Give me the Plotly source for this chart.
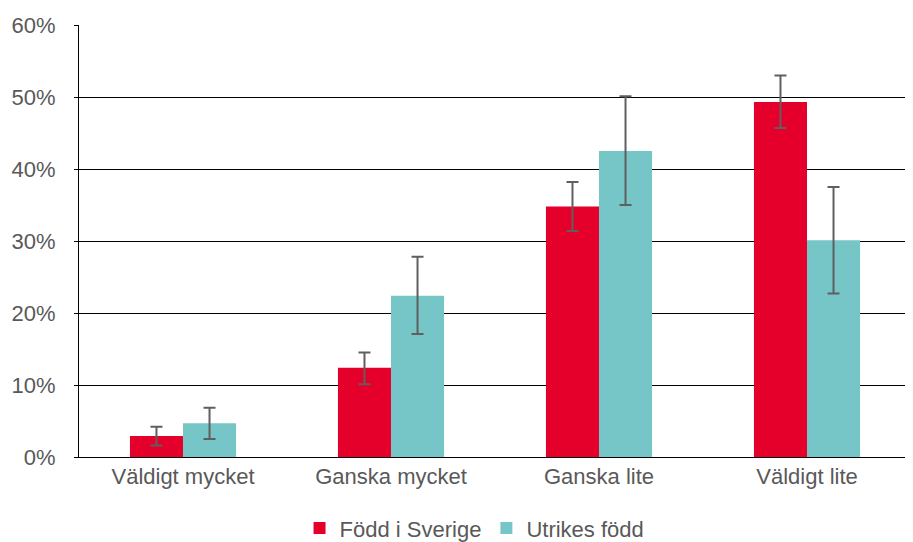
import plotly.graph_objects as go

categories = ["Väldigt mycket", "Ganska mycket", "Ganska lite", "Väldigt lite"]
series_names = ["Född i Sverige", "Utrikes född"]
fodd_sverige = [0.029, 0.124, 0.348, 0.493]
fodd_sverige_hi = [0.042, 0.145, 0.382, 0.530]
fodd_sverige_lo = [0.016, 0.101, 0.314, 0.457]
utrikes = [0.047, 0.224, 0.425, 0.301]
utrikes_hi = [0.0685, 0.278, 0.501, 0.375]
utrikes_lo = [0.025, 0.171, 0.350, 0.227]
y_ticks = [0, 0.1, 0.2, 0.3, 0.4, 0.5, 0.6]
y_tick_labels = ["0%", "10%", "20%", "30%", "40%", "50%", "60%"]

colors = ["#E4002B", "#76C6C8"]
err_color = "#5F5F5F"
font_family = "Liberation Sans, Arial, sans-serif"
text_color = "#595959"
fs = 22

fig = go.Figure()
for name, vals, hi, lo, col in [
    (series_names[0], fodd_sverige, fodd_sverige_hi, fodd_sverige_lo, colors[0]),
    (series_names[1], utrikes, utrikes_hi, utrikes_lo, colors[1]),
]:
    fig.add_trace(go.Bar(
        x=categories, y=vals, name=name,
        marker=dict(color=col, line=dict(width=0)),
        error_y=dict(
            type="data", symmetric=False,
            array=[h - v for h, v in zip(hi, vals)],
            arrayminus=[v - l for v, l in zip(vals, lo)],
            color=err_color, thickness=2, width=6,
        ),
    ))

fig.update_layout(
    width=905, height=534,
    margin=dict(l=71, r=2, t=17, b=85),
    paper_bgcolor="white", plot_bgcolor="white",
    barmode="group", bargap=0.49, bargroupgap=0,
    font=dict(family=font_family, size=fs, color=text_color),
    showlegend=True,
    legend=dict(
        orientation="h", xref="container", x=0.5155, xanchor="center",
        yref="container", y=0.026, yanchor="middle",
        font=dict(size=fs, color=text_color),
        itemsizing="constant", traceorder="normal",
    ),
    xaxis=dict(
        showline=True, linecolor="black", linewidth=1,
        ticks="", tickfont=dict(size=fs, color=text_color),
        showgrid=False, automargin=False,
    ),
    yaxis=dict(
        range=[0, 0.6], tickvals=y_ticks, ticktext=y_tick_labels,
        showline=True, linecolor="black", linewidth=1,
        showgrid=True, gridcolor="black", gridwidth=1,
        ticks="outside", ticklen=4, tickcolor="black",
        ticklabelstandoff=14,
        tickfont=dict(size=fs, color=text_color),
        zeroline=False, automargin=False,
    ),
)

fig.write_html("out.html")
